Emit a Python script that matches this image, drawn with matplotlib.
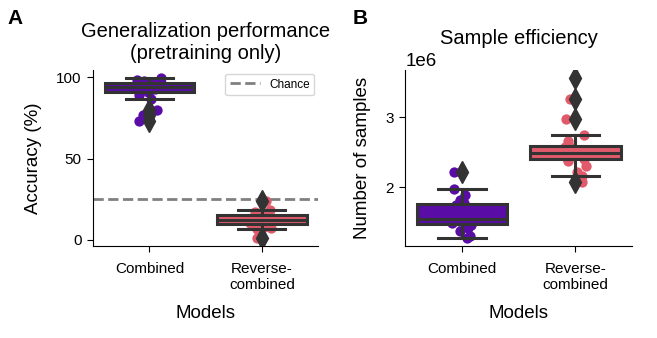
import matplotlib
matplotlib.use("Agg")
import matplotlib.pyplot as plt
import numpy as np

plt.rcParams['font.family'] = ['Liberation Sans', 'DejaVu Sans']

models = ['Combined', 'Reverse-\ncombined']
colors = ['#5a0ca6', '#e05a6b']

# accuracy (%) per run, generalization after pretraining only
acc_combined = [73, 77, 80, 87, 89, 91, 91.5, 92, 93, 93.5, 94, 94.5,
                95, 95.5, 96, 96.5, 96.5, 97, 97.5, 98, 98.5, 99.5]
acc_reverse = [1, 6.3, 7, 8, 9.6, 9.8, 10, 11, 11.5, 12, 12.5, 13,
               14, 14.5, 15, 15.5, 16, 17, 18.4, 24]
chance = 25

# number of samples needed (units of 1e6)
samp_combined = [1.27, 1.30, 1.37, 1.42, 1.46, 1.48, 1.50, 1.52, 1.53, 1.54,
                 1.55, 1.60, 1.68, 1.75, 1.77, 1.82, 1.89, 1.97, 2.22]
samp_reverse = [2.08, 2.16, 2.22, 2.30, 2.38, 2.40, 2.42, 2.44, 2.46, 2.48,
                2.49, 2.50, 2.52, 2.54, 2.56, 2.57, 2.60, 2.66, 2.745,
                2.97, 3.26, 3.56]

dark = '#333333'
rng = np.random.default_rng(3)


def box_strip(ax, groups):
    pos = np.arange(len(groups))
    # strip points behind the boxes
    for i, vals in enumerate(groups):
        jit = rng.uniform(-0.11, 0.11, len(vals))
        ax.scatter(i + jit, vals, s=55, color=colors[i], zorder=1,
                   linewidths=0)
    bp = ax.boxplot(groups, positions=pos, widths=0.8, patch_artist=True,
                    capwidths=0.42, zorder=2,
                    boxprops=dict(edgecolor=dark, linewidth=2.2),
                    whiskerprops=dict(color=dark, linewidth=2.2),
                    capprops=dict(color=dark, linewidth=2.2),
                    medianprops=dict(color=dark, linewidth=2.2),
                    flierprops=dict(marker='d', markersize=11,
                                    markerfacecolor=dark,
                                    markeredgecolor=dark))
    for patch, c in zip(bp['boxes'], colors):
        patch.set_facecolor(c)
    ax.set_xlim(-0.5, 1.5)
    ax.set_xticks(pos)
    ax.set_xticklabels(models, fontsize=11)
    ax.set_xlabel('Models', fontsize=13.5, labelpad=9)
    ax.spines['top'].set_visible(False)
    ax.spines['right'].set_visible(False)
    ax.tick_params(labelsize=11, length=4.5)
    ax.tick_params(axis='x', pad=7)
    ax.tick_params(axis='y', pad=4)


fig = plt.figure(figsize=(6.57, 3.38), dpi=100)
ax1 = fig.add_axes([0.142, 0.272, 0.342, 0.52])
ax2 = fig.add_axes([0.617, 0.272, 0.345, 0.52])

box_strip(ax1, [acc_combined, acc_reverse])
ax1.axhline(chance, color='gray', linestyle='--', linewidth=2, zorder=0,
            label='Chance')
ax1.set_yticks([0, 50, 100])
ax1.set_ylabel('Accuracy (%)', fontsize=13.5, labelpad=10)
ax1.set_title('Generalization performance\n(pretraining only)',
              fontsize=14.5, pad=8)
ax1.legend(loc='upper right', fontsize=8.5, handlelength=2.5,
           borderaxespad=0.3)

box_strip(ax2, [np.array(samp_combined) * 1e6, np.array(samp_reverse) * 1e6])
ax2.set_yticks([2e6, 3e6])
ax2.set_ylabel('Number of samples', fontsize=13.5, labelpad=10)
ax2.set_title('Sample efficiency', fontsize=14.5, pad=19)
ax2.yaxis.get_offset_text().set_fontsize(13.5)

fig.text(0.012, 0.93, 'A', fontsize=15, fontweight='bold')
fig.text(0.537, 0.93, 'B', fontsize=15, fontweight='bold')

fig.savefig('out.png', dpi=100)
